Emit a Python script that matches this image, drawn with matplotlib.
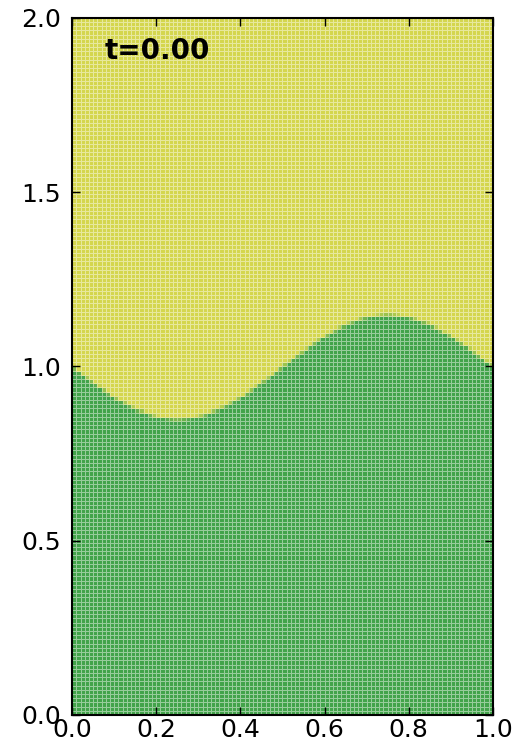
import numpy as np
import matplotlib
matplotlib.use("Agg")
import matplotlib.pyplot as plt
from matplotlib.colors import LinearSegmentedColormap

# interface height
interface_x = [0.00, 0.05, 0.10, 0.15, 0.20, 0.25, 0.30, 0.35, 0.40, 0.45, 0.50,
               0.55, 0.60, 0.65, 0.70, 0.75, 0.80, 0.85, 0.90, 0.95, 1.00]
interface_y = [1.00, 0.954, 0.912, 0.879, 0.857, 0.850, 0.857, 0.879, 0.912, 0.954, 1.00,
               1.046, 1.088, 1.121, 1.143, 1.150, 1.143, 1.121, 1.088, 1.046, 1.00]

nx, ny = 100, 166
x_ticks = [0.0, 0.2, 0.4, 0.6, 0.8, 1.0]
y_ticks = [0.0, 0.5, 1.0, 1.5, 2.0]
time_label = "t=0.00"

x_edges = np.linspace(0.0, 1.0, nx + 1)
y_edges = np.linspace(0.0, 2.0, ny + 1)
xc = 0.5 * (x_edges[:-1] + x_edges[1:])
dy = y_edges[1] - y_edges[0]
h = np.interp(xc, interface_x, interface_y)
# volume fraction of heavy fluid in each cell
frac = np.clip((h[None, :] - y_edges[:-1, None]) / dy, 0.0, 1.0)

cmap = LinearSegmentedColormap.from_list("vof", ["#d4d64e", "#42a34a"])

fig = plt.figure(figsize=(5.15, 7.44), dpi=100)
ax = fig.add_axes([0.140, 0.039, 0.817, 0.937])
ax.pcolormesh(x_edges, y_edges, frac, cmap=cmap, vmin=0, vmax=1,
              edgecolors=(1, 1, 1, 0.45), linewidth=0.6)
ax.set_xlim(0, 1)
ax.set_ylim(0, 2)
ax.set_xticks(x_ticks)
ax.set_yticks(y_ticks)
ax.tick_params(direction="in", length=6, width=1, labelsize=18,
               top=True, right=True)
ax.tick_params(axis="x", pad=2)
ax.tick_params(axis="y", pad=8)
for s in ax.spines.values():
    s.set_linewidth(1.5)
ax.text(0.078, 0.973, time_label, transform=ax.transAxes, fontsize=20,
        fontweight="bold", va="top", ha="left")

fig.savefig("out.png", dpi=100)
